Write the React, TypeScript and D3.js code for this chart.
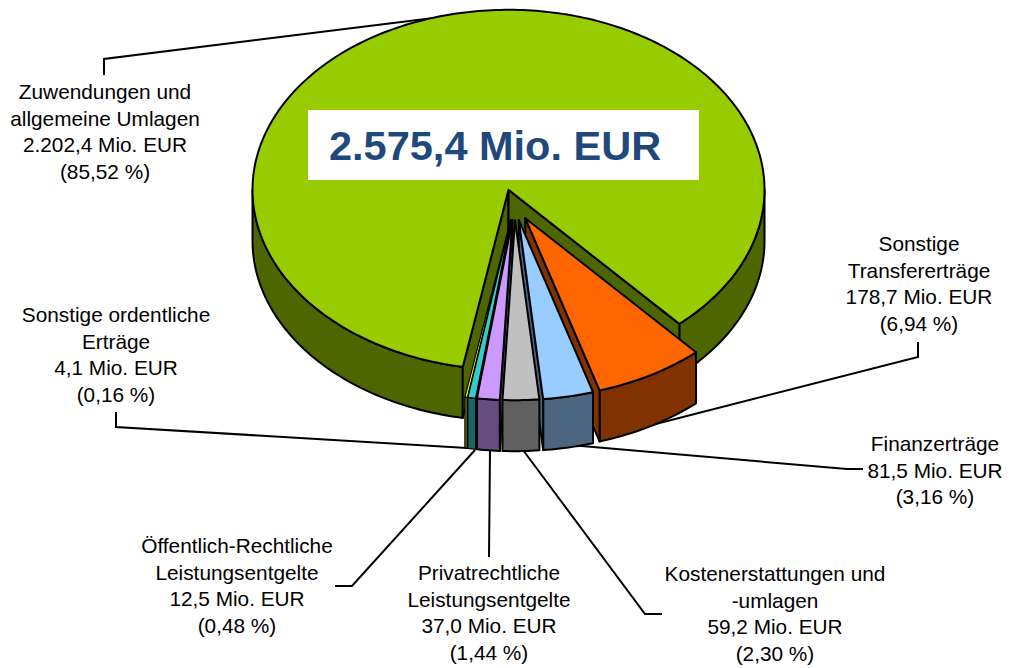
import * as d3 from "d3";

// values in Mio. EUR, clockwise from the big slice
const names = [
  "Zuwendungen",
  "Transfer",
  "Finanz",
  "Kosten",
  "Privat",
  "Oeffentlich",
  "Sonstige",
];
const values = [2202.4, 178.7, 81.5, 59.2, 37.0, 12.5, 4.1];
const topColors = ["#99CC00", "#FF6600", "#99CCFF", "#C0C0C0", "#CC99FF", "#33CCCC", "#FFFF00"];
const sideColors = ["#4D6600", "#803300", "#4D6680", "#606060", "#664D80", "#1A6666", "#808000"];
const outlines = [2, 2, 2, 2, 2, 1.2, 1.2];
// far to near
const drawOrder = [0, 1, 2, 6, 5, 4, 3];

const labelLines = [
  ["Zuwendungen und", "allgemeine Umlagen", "2.202,4 Mio. EUR", "(85,52 %)"],
  ["Sonstige", "Transfererträge", "178,7 Mio. EUR", "(6,94 %)"],
  ["Finanzerträge", "81,5 Mio. EUR", "(3,16 %)"],
  ["Kostenerstattungen und", "-umlagen", "59,2 Mio. EUR", "(2,30 %)"],
  ["Privatrechtliche", "Leistungsentgelte", "37,0 Mio. EUR", "(1,44 %)"],
  ["Öffentlich-Rechtliche", "Leistungsentgelte", "12,5 Mio. EUR", "(0,48 %)"],
  ["Sonstige ordentliche", "Erträge", "4,1 Mio. EUR", "(0,16 %)"],
];
const labelX = [105, 919, 935, 775, 489, 237, 116];
const labelY = [99.3, 251, 451, 581, 580, 553, 322];

const leaders: [number, number][][] = [
  [[104, 75], [104, 59], [490, 11]],
  [[918, 342], [918, 357], [640, 428]],
  [[863, 469], [847, 469], [570, 445]],
  [[662, 614], [645, 614], [523, 450]],
  [[489, 557], [490, 450]],
  [[335, 586], [352, 586], [475, 450]],
  [[116, 412], [116, 427], [467, 448]],
];

const W = 1009;
const H = 668;
const cx = 514.5;
const cy = 204.7;
const rx = 256;
const ry = 180;
const explode = 0.086;
const depth = 51;
const startDeg = 190.3;

const line = d3.line();
const rad = (d: number) => (d * Math.PI) / 180;

// flat angle (clockwise from 12 o'clock) to the squashed ellipse
const onRim = (c: [number, number], a: number): [number, number] => [
  c[0] + rx * Math.sin(a),
  c[1] - ry * Math.cos(a),
];
const shift = (p: [number, number]): [number, number] => [p[0], p[1] + depth];
const rim = (c: [number, number], a0: number, a1: number) => {
  const n = Math.max(2, Math.ceil(Math.abs(a1 - a0) / rad(1)));
  return d3.range(n + 1).map((i) => onRim(c, a0 + ((a1 - a0) * i) / n));
};

const arcs = d3
  .pie<number>()
  .sort(null)
  .startAngle(rad(startDeg))
  .endAngle(rad(startDeg + 360))(values);

const slices = arcs.map((a, i) => {
  const mid = (a.startAngle + a.endAngle) / 2;
  const apex: [number, number] = [
    cx + explode * rx * Math.sin(mid),
    cy - explode * ry * Math.cos(mid),
  ];
  const outer: [number, number][][] = [];
  // only the part of the rim between 90 and 270 degrees faces the viewer
  [rad(90), rad(450)].forEach((lo) => {
    const a0 = Math.max(a.startAngle, lo);
    const a1 = Math.min(a.endAngle, lo + Math.PI);
    if (a1 > a0) {
      const r = rim(apex, a0, a1);
      outer.push([...r, ...r.map(shift).reverse()]);
    }
  });
  const walls: [number, number][][] = [];
  [
    { ang: a.startAngle, show: Math.sin(a.startAngle) < 0 },
    { ang: a.endAngle, show: Math.sin(a.endAngle) > 0 },
  ].forEach((w) => {
    if (w.show) {
      const e = onRim(apex, w.ang);
      walls.push([apex, e, shift(e), shift(apex)]);
    }
  });
  const top = [apex, ...rim(apex, a.startAngle, a.endAngle)];
  return { name: names[i], i, outer, walls, top };
});

export default function App() {
  return (
    <svg
      width={W}
      height={H}
      style={{ position: "absolute", left: 0, top: 0, background: "#fff" }}
      fontFamily="'Liberation Sans', Arial, sans-serif"
    >
      <g fill="none" stroke="#000" strokeWidth={2}>
        {leaders.map((l, i) => (
          <path key={i} d={line(l) ?? ""} />
        ))}
      </g>
      {drawOrder.map((idx) => {
        const s = slices[idx];
        return (
          <g key={s.name} stroke="#000" strokeWidth={outlines[idx]} strokeLinejoin="round">
            {s.outer.map((p, k) => (
              <path key={k} d={line(p) + "Z"} fill={sideColors[s.i]} />
            ))}
            {s.walls.map((p, k) => (
              <path key={k} d={line(p) + "Z"} fill={sideColors[s.i]} />
            ))}
            <path d={line(s.top) + "Z"} fill={topColors[s.i]} />
          </g>
        );
      })}
      <rect x={308} y={110} width={391} height={70} fill="#fff" />
      <text x={329} y={160} fontSize={41.5} fontWeight="bold" fill="#1F497D">
        2.575,4 Mio. EUR
      </text>
      {labelLines.map((lines, i) => (
        <text key={i} textAnchor="middle" fontSize={20.8} fill="#000">
          {lines.map((t, j) => (
            <tspan key={j} x={labelX[i]} y={labelY[i] + j * 26.5}>
              {t}
            </tspan>
          ))}
        </text>
      ))}
    </svg>
  );
}
